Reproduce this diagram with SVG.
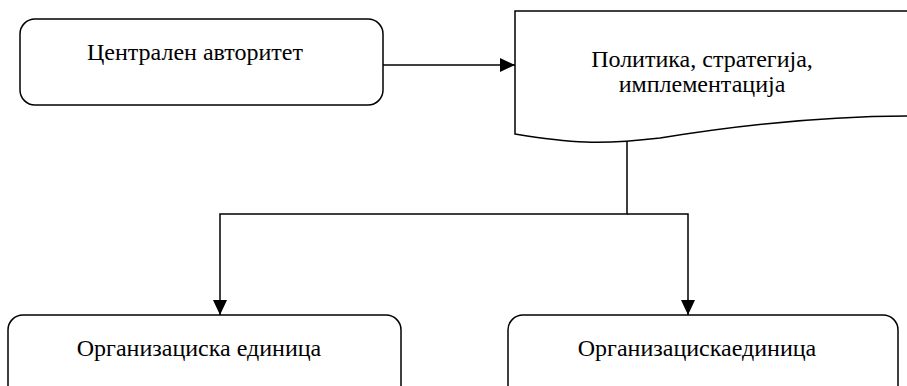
<svg xmlns="http://www.w3.org/2000/svg" width="907" height="386" viewBox="0 0 907 386">
<defs>
<style>
.shape{fill:#fff;stroke:#000;stroke-width:1.5}
.conn{fill:none;stroke:#000;stroke-width:1.5}
</style>
<marker id="arr" viewBox="0 0 15 14" refX="15" refY="7" markerWidth="15" markerHeight="14" markerUnits="userSpaceOnUse" orient="auto">
<path d="M0,0 L15,7 L0,14 Z" fill="#000"/>
</marker>
</defs>
<rect width="907" height="386" fill="#fff"/>
<g id="node-central">
<rect class="shape" x="20" y="19" width="363" height="86" rx="15" ry="15"/>
<text x="195" y="60" style="font-family:'Liberation Serif', serif;font-size:24px;text-anchor:middle">Централен авторитет</text>
</g>
<g id="node-policy">
<path class="shape" d="M515,11 L910,11 L910,116 C820,116 740,125 660,138 C600,145 570,143 515,134 Z"/>
<text x="702" y="67" style="font-family:'Liberation Serif', serif;font-size:24px;text-anchor:middle">Политика, стратегија,</text>
<text x="702" y="92" style="font-family:'Liberation Serif', serif;font-size:24px;text-anchor:middle">имплементација</text>
</g>
<g id="node-unit1">
<rect class="shape" x="8" y="315" width="393" height="90" rx="15" ry="15"/>
<text x="199" y="356" style="font-family:'Liberation Serif', serif;font-size:24px;text-anchor:middle">Организациска единица</text>
</g>
<g id="node-unit2">
<rect class="shape" x="508" y="315" width="390" height="90" rx="15" ry="15"/>
<text x="697" y="356" style="font-family:'Liberation Serif', serif;font-size:24px;text-anchor:middle">Организацискаединица</text>
</g>
<g id="connectors">
<line class="conn" x1="383" y1="65" x2="515" y2="65" marker-end="url(#arr)"/>
<polyline class="conn" points="627,141 627,214 220,214 220,315" marker-end="url(#arr)"/>
<polyline class="conn" points="627,214 688,214 688,315" marker-end="url(#arr)"/>
</g>
</svg>
